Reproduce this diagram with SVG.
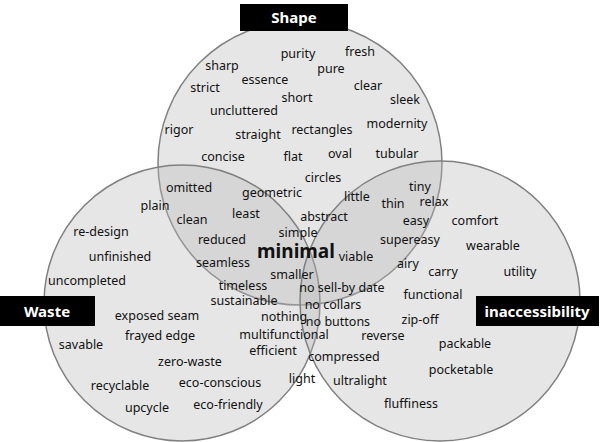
<svg xmlns="http://www.w3.org/2000/svg" width="600" height="442" viewBox="0 0 600 442">
<style>
.c{fill:#b8b8b8;fill-opacity:0.35;stroke:#808080;stroke-width:1.5}
text{font-family:"Noto Sans","Liberation Sans",sans-serif;font-size:12.5px;fill:#111;text-anchor:middle}
.lb{fill:#000}
.lt{fill:#fff;font-weight:bold;font-size:15px}
</style>
<rect width="600" height="442" fill="#fff"/>
<g id="circles">
<circle class="c" cx="300" cy="163" r="142"/>
<circle class="c" cx="182" cy="303" r="138"/>
<circle class="c" cx="440" cy="301" r="140"/>
</g>
<g id="shape"><rect class="lb" x="240" y="4" width="108" height="27"/><text class="lt" x="294" y="23">Shape</text></g>
<g id="waste"><rect class="lb" x="0" y="296" width="95" height="30"/><text class="lt" x="47" y="317">Waste</text></g>
<g id="inacc"><rect class="lb" x="476" y="296" width="123" height="30"/><text class="lt" x="537" y="317">inaccessibility</text></g>
<g id="words">
<text x="298" y="58">purity</text><text x="360" y="56">fresh</text>
<text x="222" y="70">sharp</text><text x="331" y="73">pure</text>
<text x="205" y="92">strict</text><text x="265" y="84">essence</text><text x="368" y="90">clear</text>
<text x="297" y="102">short</text><text x="405" y="104">sleek</text>
<text x="244" y="115">uncluttered</text><text x="397" y="128">modernity</text>
<text x="179" y="134">rigor</text><text x="258" y="139">straight</text><text x="322" y="134">rectangles</text>
<text x="223" y="161">concise</text><text x="293" y="161">flat</text><text x="340" y="158">oval</text><text x="397" y="158">tubular</text>
<text x="323" y="182">circles</text>
<text x="189" y="192">omitted</text><text x="272" y="197">geometric</text><text x="357" y="201">little</text><text x="420" y="191">tiny</text>
<text x="155" y="210">plain</text><text x="393" y="208">thin</text><text x="434" y="206">relax</text>
<text x="192" y="224">clean</text><text x="246" y="218">least</text><text x="324" y="221">abstract</text><text x="416" y="225">easy</text><text x="475" y="225">comfort</text>
<text x="101" y="236">re-design</text><text x="298" y="237">simple</text>
<text x="222" y="244">reduced</text><text x="410" y="244">supereasy</text><text x="493" y="250">wearable</text>
<text x="296" y="258" style="font-size:19px;font-weight:bold">minimal</text>
<text x="120" y="261">unfinished</text><text x="223" y="267">seamless</text><text x="356" y="261">viable</text><text x="408" y="268">airy</text>
<text x="292" y="279">smaller</text><text x="443" y="276">carry</text><text x="520" y="276">utility</text>
<text x="87" y="285">uncompleted</text><text x="243" y="290">timeless</text><text x="342" y="292">no sell-by date</text>
<text x="244" y="305">sustainable</text><text x="333" y="309">no collars</text><text x="433" y="299">functional</text>
<text x="157" y="320">exposed seam</text><text x="284" y="321">nothing</text><text x="338" y="326">no buttons</text><text x="420" y="324">zip-off</text>
<text x="284" y="339">multifunctional</text><text x="383" y="340">reverse</text><text x="465" y="348">packable</text>
<text x="81" y="349">savable</text><text x="160" y="340">frayed edge</text><text x="273" y="355">efficient</text>
<text x="190" y="366">zero-waste</text><text x="344" y="361">compressed</text><text x="461" y="374">pocketable</text>
<text x="302" y="383">light</text><text x="360" y="385">ultralight</text>
<text x="120" y="390">recyclable</text><text x="220" y="387">eco-conscious</text>
<text x="147" y="412">upcycle</text><text x="228" y="409">eco-friendly</text><text x="411" y="408">fluffiness</text>
</g>
</svg>
